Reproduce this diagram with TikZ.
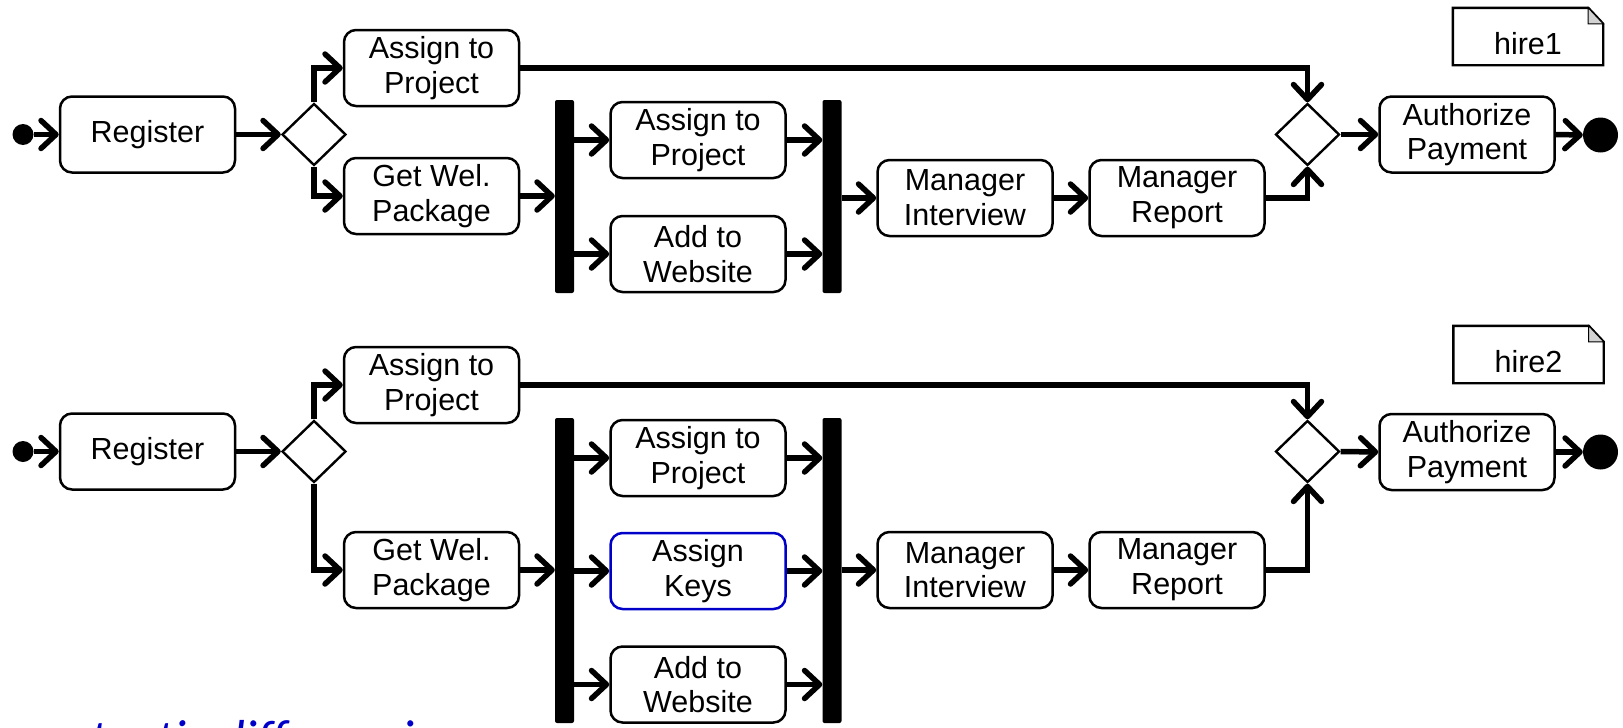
\documentclass[tikz,border=0pt]{standalone}
\usepackage{fontspec}
\setmainfont{Liberation Sans}
\newfontfamily\capfont{Carlito}
\usetikzlibrary{shapes.geometric,arrows.meta}
\definecolor{tblue}{RGB}{0,0,200}
\begin{document}
\begin{tikzpicture}[x=1pt,y=-1pt,
  txt/.style={font=\fontsize{30.5}{34.7}\selectfont},
  act/.style={draw,line width=2.5pt,rounded corners=12pt,minimum width=175pt,minimum height=76pt,inner sep=0pt,align=center,txt},
  newact/.style={act,draw=tblue},
  dec/.style={diamond,draw,line width=2.4pt,minimum width=64pt,minimum height=62pt,inner sep=0pt},
  bar/.style={fill=black,rounded corners=2pt,minimum width=19pt,inner sep=0pt},
  startdot/.style={circle,fill=black,minimum size=21pt,inner sep=0pt},
  enddot/.style={circle,fill=black,minimum size=35pt,inner sep=0pt},
  flow/.style={line width=5.5pt,-{Straight Barb[length=15pt,width=28pt,line cap=round,line join=round]}},
  notebox/.style={minimum width=150pt,minimum height=57pt,inner sep=0pt},
  notel/.style={line width=2.4pt,line join=miter},
]
\useasboundingbox (0,0) rectangle (1623,728);

% ---------- row 1 ----------
\node[startdot] (i1) at (23,134.5) {};
\node[act] (r1) at (147.5,134.5) {Register};
\node[dec] (d1) at (314,134.5) {};
\node[act] (a1) at (431.5,68) {Assign to\\Project};
\node[act] (g1) at (431.5,196) {Get Wel.\\Package};
\node[bar,minimum height=193pt] (b1) at (564.5,196.5) {};
\node[act] (p1) at (698,140) {Assign to\\Project};
\node[act] (w1) at (698,254) {Add to\\Website};
\node[bar,minimum height=193pt] (b2) at (832,196.5) {};
\node[act] (mi1) at (965,198) {Manager\\Interview};
\node[act] (mr1) at (1177,198) {Manager\\Report};
\node[dec] (m1) at (1307.5,134.5) {};
\node[act] (ap1) at (1467,134.5) {Authorize\\Payment};
\node[enddot] (f1) at (1600.5,135) {};
\node[notebox] (n1) at (1528,36.5) {};
\draw[notel] (n1.south west) -- (n1.north west) -- ([xshift=-15pt]n1.north east) -- ([yshift=-16pt]n1.north east) -- (n1.south east) -- cycle;
\draw[fill=gray!35,line width=1pt] ([xshift=-15pt]n1.north east) -- ([xshift=-15pt,yshift=-16pt]n1.north east) -- ([yshift=-16pt]n1.north east) -- cycle;
\node[txt] (t1) at (1528,44) {hire1};

\draw[flow] (i1) -- (r1.west);
\draw[flow] (r1.east) -- (d1.west);
\draw[flow] (d1.north) |- (a1.west);
\draw[flow] (d1.south) |- (g1.west);
\draw[flow] (g1.east) -- (g1.east -| b1.west);
\draw[flow] (b1.east |- p1.west) -- (p1.west);
\draw[flow] (b1.east |- w1.west) -- (w1.west);
\draw[flow] (p1.east) -- (p1.east -| b2.west);
\draw[flow] (w1.east) -- (w1.east -| b2.west);
\draw[flow] (b2.east |- mi1.west) -- (mi1.west);
\draw[flow] (mi1.east) -- (mr1.west);
\draw[flow] (a1.east) -| (m1.north);
\draw[flow] (mr1.east) -| (m1.south);
\draw[flow] (m1.east) -- (ap1.west);
\draw[flow] (ap1.east) -- (f1.west);

% ---------- row 2 ----------
\node[startdot] (i2) at (23,451.5) {};
\node[act] (r2) at (147.5,451.5) {Register};
\node[dec] (d2) at (314,451.5) {};
\node[act] (a2) at (431.5,385) {Assign to\\Project};
\node[act] (g2) at (431.5,570) {Get Wel.\\Package};
\node[bar,minimum height=305pt] (b3) at (564.5,570.5) {};
\node[act] (p2) at (698,458) {Assign to\\Project};
\node[newact] (k2) at (698,571) {Assign\\Keys};
\node[act] (w2) at (698,684.5) {Add to\\Website};
\node[bar,minimum height=305pt] (b4) at (832,570.5) {};
\node[act] (mi2) at (965,570) {Manager\\Interview};
\node[act] (mr2) at (1177,570) {Manager\\Report};
\node[dec] (m2) at (1307.5,451.5) {};
\node[act] (ap2) at (1467,452) {Authorize\\Payment};
\node[enddot] (f2) at (1600.5,452) {};
\node[notebox] (n2) at (1528.5,354.5) {};
\draw[notel] (n2.south west) -- (n2.north west) -- ([xshift=-15pt]n2.north east) -- ([yshift=-16pt]n2.north east) -- (n2.south east) -- cycle;
\draw[fill=gray!35,line width=1pt] ([xshift=-15pt]n2.north east) -- ([xshift=-15pt,yshift=-16pt]n2.north east) -- ([yshift=-16pt]n2.north east) -- cycle;
\node[txt] (t2) at (1528.5,362) {hire2};

\draw[flow] (i2) -- (r2.west);
\draw[flow] (r2.east) -- (d2.west);
\draw[flow] (d2.north) |- (a2.west);
\draw[flow] (d2.south) |- (g2.west);
\draw[flow] (g2.east) -- (g2.east -| b3.west);
\draw[flow] (b3.east |- p2.west) -- (p2.west);
\draw[flow] (b3.east |- k2.west) -- (k2.west);
\draw[flow] (b3.east |- w2.west) -- (w2.west);
\draw[flow] (p2.east) -- (p2.east -| b4.west);
\draw[flow] (k2.east) -- (k2.east -| b4.west);
\draw[flow] (w2.east) -- (w2.east -| b4.west);
\draw[flow] (b4.east |- mi2.west) -- (mi2.west);
\draw[flow] (mi2.east) -- (mr2.west);
\draw[flow] (a2.east) -| (m2.north);
\draw[flow] (mr2.east) -| (m2.south);
\draw[flow] (m2.east) -- (ap2.west);
\draw[flow] (ap2.east) -- (f2.west);

% cut-off caption at the bottom edge
\node[anchor=base west,inner sep=0pt,text=tblue,font=\capfont\itshape\fontsize{52}{60}\selectfont] (cap) at (22,756) {syntactic differencing};
\end{tikzpicture}
\end{document}
